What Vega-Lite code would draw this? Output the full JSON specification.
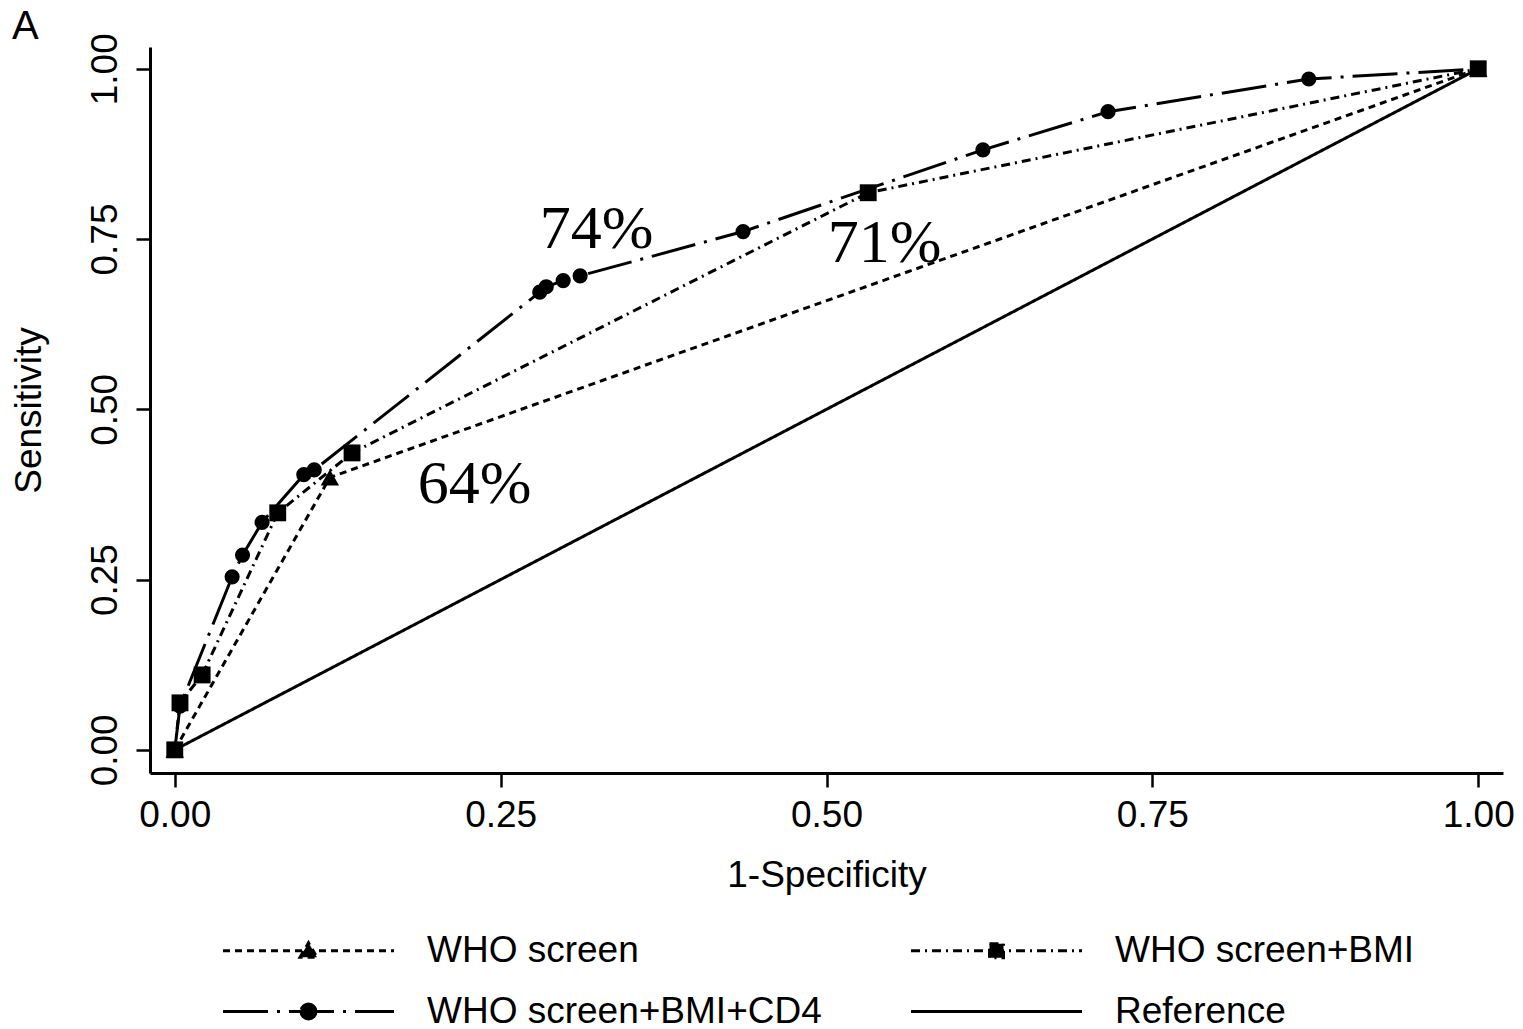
{
  "$schema": "https://vega.github.io/schema/vega-lite/v6.json",
  "width": 1353,
  "height": 726,
  "autosize": {"type": "none"},
  "padding": {"left": 150, "top": 47, "right": 20, "bottom": 256},
  "background": "white",
  "title": {"text": "A", "anchor": "start", "frame": "group", "orient": "top", "offset": 0, "dx": -138, "dy": 14, "font": "Liberation Sans", "fontSize": 40, "fontWeight": "normal", "color": "black"},
  "config": {
    "view": {"stroke": null},
    "axis": {
      "domainColor": "black", "domainWidth": 3, "tickColor": "black", "tickWidth": 2.5, "tickSize": 14,
      "labelFont": "Liberation Sans", "labelFontSize": 37, "labelColor": "black",
      "titleFont": "Liberation Sans", "titleFontSize": 37, "titleFontWeight": "normal", "titleColor": "black",
      "grid": false
    }
  },
  "datasets": {
    "roc": [
      {"s": "WHO screen", "x": 0, "y": 0},
      {"s": "WHO screen", "x": 0.119, "y": 0.4},
      {"s": "WHO screen", "x": 1, "y": 1},
      {"s": "WHO screen+BMI", "x": 0, "y": 0},
      {"s": "WHO screen+BMI", "x": 0.004, "y": 0.069},
      {"s": "WHO screen+BMI", "x": 0.021, "y": 0.11},
      {"s": "WHO screen+BMI", "x": 0.079, "y": 0.348},
      {"s": "WHO screen+BMI", "x": 0.136, "y": 0.436},
      {"s": "WHO screen+BMI", "x": 0.532, "y": 0.818},
      {"s": "WHO screen+BMI", "x": 1, "y": 1},
      {"s": "WHO screen+BMI+CD4", "x": 0, "y": 0},
      {"s": "WHO screen+BMI+CD4", "x": 0.004, "y": 0.064},
      {"s": "WHO screen+BMI+CD4", "x": 0.044, "y": 0.254},
      {"s": "WHO screen+BMI+CD4", "x": 0.052, "y": 0.286},
      {"s": "WHO screen+BMI+CD4", "x": 0.067, "y": 0.334},
      {"s": "WHO screen+BMI+CD4", "x": 0.099, "y": 0.404},
      {"s": "WHO screen+BMI+CD4", "x": 0.107, "y": 0.411},
      {"s": "WHO screen+BMI+CD4", "x": 0.28, "y": 0.672},
      {"s": "WHO screen+BMI+CD4", "x": 0.285, "y": 0.68},
      {"s": "WHO screen+BMI+CD4", "x": 0.298, "y": 0.689},
      {"s": "WHO screen+BMI+CD4", "x": 0.311, "y": 0.696},
      {"s": "WHO screen+BMI+CD4", "x": 0.436, "y": 0.761},
      {"s": "WHO screen+BMI+CD4", "x": 0.62, "y": 0.881},
      {"s": "WHO screen+BMI+CD4", "x": 0.716, "y": 0.937},
      {"s": "WHO screen+BMI+CD4", "x": 0.87, "y": 0.985},
      {"s": "WHO screen+BMI+CD4", "x": 1, "y": 1},
      {"s": "Reference", "x": 0, "y": 0},
      {"s": "Reference", "x": 1, "y": 1}
    ],
    "notes": [
      {"label": "74%", "x": 0.28, "y": 0.737},
      {"label": "71%", "x": 0.501, "y": 0.717},
      {"label": "64%", "x": 0.1865, "y": 0.363}
    ]
  },
  "layer": [
    {
      "data": {"name": "roc"},
      "mark": {"type": "line", "color": "black", "strokeWidth": 3},
      "encoding": {
        "x": {"field": "x", "type": "quantitative", "title": "1-Specificity",
          "scale": {"domain": [-0.019, 1.019], "nice": false, "zero": false},
          "axis": {"values": [0, 0.25, 0.5, 0.75, 1], "format": ".2f", "labelPadding": 10, "titlePadding": 24}},
        "y": {"field": "y", "type": "quantitative", "title": "Sensitivity",
          "scale": {"domain": [-0.034, 1.032], "nice": false, "zero": false},
          "axis": {"values": [0, 0.25, 0.5, 0.75, 1], "format": ".2f", "labelAngle": -90, "labelAlign": "center", "labelBaseline": "bottom", "labelPadding": 12, "titlePadding": 38}},
        "strokeDash": {"field": "s", "type": "nominal",
          "scale": {"domain": ["WHO screen", "WHO screen+BMI", "WHO screen+BMI+CD4", "Reference"],
                    "range": [[7, 5], [9, 5, 2, 5], [45, 9, 3, 9], [1, 0]]},
          "legend": {
            "orient": "none", "legendX": 72, "legendY": 885, "columns": 2, "direction": "horizontal", "title": null,
            "labelFont": "Liberation Sans", "labelFontSize": 37, "labelColor": "black", "labelLimit": 700,
            "labelBaseline": "middle",
            "symbolSize": 400, "symbolOffset": 68, "labelOffset": 100,
            "columnPadding": 83, "rowPadding": 23, "padding": 0,
            "symbolStrokeWidth": 3, "symbolStrokeColor": "black", "symbolFillColor": "black",
            "encode": {"symbols": {"update": {
              "fill": {"value": "black"},
              "stroke": {"value": "black"},
              "shape": {"signal": "datum.value === 'WHO screen' ? 'M-8.55,0L8.55,0M-0.85,0.65L0,-0.8L0.85,0.65Z' : datum.value === 'WHO screen+BMI' ? 'M-8.55,0L8.55,0M-0.7,-0.7L0.7,-0.7L0.7,0.7L-0.7,0.7Z' : datum.value === 'WHO screen+BMI+CD4' ? 'M-8.55,0L8.55,0M-0.75,0A0.75,0.75,0,1,0,0.75,0A0.75,0.75,0,1,0,-0.75,0Z' : 'M-8.55,0L8.55,0'"}
            }}}
          }
        }
      }
    },
    {
      "data": {"name": "roc"},
      "transform": [{"filter": "datum.s !== 'Reference'"}],
      "mark": {"type": "point", "filled": true, "color": "black", "opacity": 1},
      "encoding": {
        "x": {"field": "x", "type": "quantitative"},
        "y": {"field": "y", "type": "quantitative"},
        "shape": {"field": "s", "type": "nominal",
          "scale": {"domain": ["WHO screen", "WHO screen+BMI", "WHO screen+BMI+CD4"], "range": ["triangle-up", "square", "circle"]},
          "legend": null},
        "size": {"field": "s", "type": "nominal",
          "scale": {"domain": ["WHO screen", "WHO screen+BMI", "WHO screen+BMI+CD4"], "range": [340, 230, 210]},
          "legend": null}
      }
    },
    {
      "data": {"name": "notes"},
      "mark": {"type": "text", "font": "Liberation Serif", "fontSize": 62, "align": "left", "baseline": "alphabetic", "color": "black"},
      "encoding": {
        "x": {"field": "x", "type": "quantitative"},
        "y": {"field": "y", "type": "quantitative"},
        "text": {"field": "label", "type": "nominal"}
      }
    }
  ]
}
